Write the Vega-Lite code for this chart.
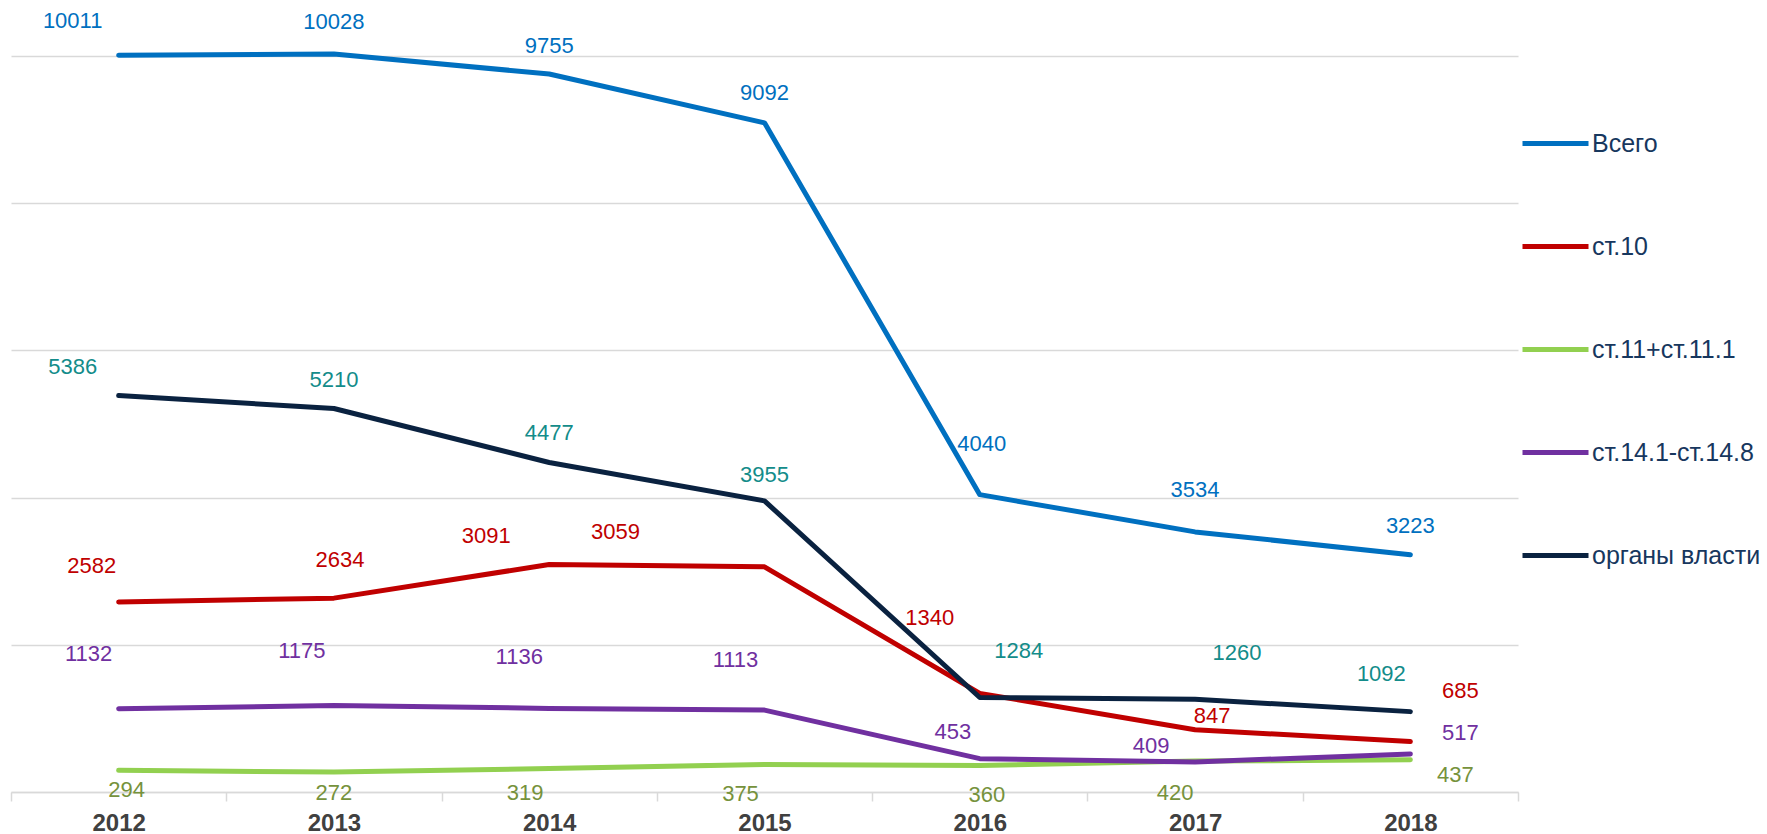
{
  "$schema": "https://vega.github.io/schema/vega-lite/v6.json",
  "width": 1507,
  "height": 736,
  "autosize": "none",
  "padding": {"left": 11, "top": 56, "right": 249, "bottom": 42},
  "background": "white",
  "config": {
    "font": "Liberation Sans",
    "view": {"stroke": null}
  },
  "data": {
    "values": [
      {"year": "2012", "series": "Всего", "value": 10011},
      {"year": "2013", "series": "Всего", "value": 10028},
      {"year": "2014", "series": "Всего", "value": 9755},
      {"year": "2015", "series": "Всего", "value": 9092},
      {"year": "2016", "series": "Всего", "value": 4040},
      {"year": "2017", "series": "Всего", "value": 3534},
      {"year": "2018", "series": "Всего", "value": 3223},
      {"year": "2012", "series": "ст.10", "value": 2582},
      {"year": "2013", "series": "ст.10", "value": 2634},
      {"year": "2014", "series": "ст.10", "value": 3091},
      {"year": "2015", "series": "ст.10", "value": 3059},
      {"year": "2016", "series": "ст.10", "value": 1340},
      {"year": "2017", "series": "ст.10", "value": 847},
      {"year": "2018", "series": "ст.10", "value": 685},
      {"year": "2012", "series": "ст.11+ст.11.1", "value": 294},
      {"year": "2013", "series": "ст.11+ст.11.1", "value": 272},
      {"year": "2014", "series": "ст.11+ст.11.1", "value": 319},
      {"year": "2015", "series": "ст.11+ст.11.1", "value": 375},
      {"year": "2016", "series": "ст.11+ст.11.1", "value": 360},
      {"year": "2017", "series": "ст.11+ст.11.1", "value": 420},
      {"year": "2018", "series": "ст.11+ст.11.1", "value": 437},
      {"year": "2012", "series": "ст.14.1-ст.14.8", "value": 1132},
      {"year": "2013", "series": "ст.14.1-ст.14.8", "value": 1175},
      {"year": "2014", "series": "ст.14.1-ст.14.8", "value": 1136},
      {"year": "2015", "series": "ст.14.1-ст.14.8", "value": 1113},
      {"year": "2016", "series": "ст.14.1-ст.14.8", "value": 453},
      {"year": "2017", "series": "ст.14.1-ст.14.8", "value": 409},
      {"year": "2018", "series": "ст.14.1-ст.14.8", "value": 517},
      {"year": "2012", "series": "органы власти", "value": 5386},
      {"year": "2013", "series": "органы власти", "value": 5210},
      {"year": "2014", "series": "органы власти", "value": 4477},
      {"year": "2015", "series": "органы власти", "value": 3955},
      {"year": "2016", "series": "органы власти", "value": 1284},
      {"year": "2017", "series": "органы власти", "value": 1260},
      {"year": "2018", "series": "органы власти", "value": 1092}
    ]
  },
  "encoding": {
    "x": {
      "field": "year", "type": "ordinal", "bandPosition": 0.5,
      "scale": {"type": "band", "paddingInner": 0, "paddingOuter": 0},
      "axis": {
        "title": null, "labelAngle": 0, "tickBand": "extent",
        "domainColor": "#D9D9D9", "domainWidth": 1.5,
        "tickColor": "#D9D9D9", "tickWidth": 1.5, "tickSize": 9,
        "labelFont": "Liberation Sans", "labelFontWeight": "bold", "labelFontSize": 24,
        "labelColor": "#404040", "labelPadding": 10, "grid": false
      }
    },
    "y": {
      "field": "value", "type": "quantitative",
      "scale": {"domain": [0, 10000], "nice": false},
      "axis": {
        "title": null, "values": [0, 2000, 4000, 6000, 8000, 10000],
        "labels": false, "ticks": false, "domain": false,
        "grid": true, "gridColor": "#D9D9D9", "gridWidth": 1.5
      }
    }
  },
  "layer": [
    {
      "mark": {"type": "line", "strokeWidth": 5, "strokeCap": "round", "strokeJoin": "round"},
      "encoding": {
        "color": {
          "field": "series", "type": "nominal",
          "scale": {
            "domain": ["Всего", "ст.10", "ст.11+ст.11.1", "ст.14.1-ст.14.8", "органы власти"],
            "range": ["#0070C0", "#C00000", "#92D050", "#7030A0", "#0A2240"]
          },
          "legend": {
            "title": null, "orient": "none", "legendX": 1509, "legendY": 52,
            "symbolType": "stroke", "symbolSize": 4356, "symbolStrokeWidth": 5,
            "labelFontSize": 25, "labelColor": "#17375E", "labelFont": "Liberation Sans",
            "labelLimit": 400, "rowPadding": 54, "labelOffset": 1
          }
        },
        "order": {"field": "series"}
      }
    },
    {
      "transform": [{"filter": "datum.series === 'Всего'"}],
      "mark": {"type": "text", "fontSize": 22, "color": "#0070C0",
        "dx": {"expr": "[-46,0,0,0,2,0,0][toNumber(datum.year)-2012]"},
        "dy": {"expr": "[-34,-32,-28,-30,-51,-42,-29][toNumber(datum.year)-2012]"}},
      "encoding": {"text": {"field": "value", "type": "quantitative", "format": "d"}}
    },
    {
      "transform": [{"filter": "datum.series === 'ст.10'"}],
      "mark": {"type": "text", "fontSize": 22, "color": "#C00000",
        "dx": {"expr": "[-27,6,-63,-149,-50,17,50][toNumber(datum.year)-2012]"},
        "dy": {"expr": "[-36,-38,-29,-35,-75,-14,-51][toNumber(datum.year)-2012]"}},
      "encoding": {"text": {"field": "value", "type": "quantitative", "format": "d"}}
    },
    {
      "transform": [{"filter": "datum.series === 'ст.11+ст.11.1'"}],
      "mark": {"type": "text", "fontSize": 22, "color": "#76923C",
        "dx": {"expr": "[8,0,-24,-24,7,-20,45][toNumber(datum.year)-2012]"},
        "dy": {"expr": "[20,21,24,30,29,32,15][toNumber(datum.year)-2012]"}},
      "encoding": {"text": {"field": "value", "type": "quantitative", "format": "d"}}
    },
    {
      "transform": [{"filter": "datum.series === 'ст.14.1-ст.14.8'"}],
      "mark": {"type": "text", "fontSize": 22, "color": "#7030A0",
        "dx": {"expr": "[-30,-32,-30,-29,-27,-44,50][toNumber(datum.year)-2012]"},
        "dy": {"expr": "[-55,-55,-51,-50,-27,-16,-21][toNumber(datum.year)-2012]"}},
      "encoding": {"text": {"field": "value", "type": "quantitative", "format": "d"}}
    },
    {
      "transform": [{"filter": "datum.series === 'органы власти'"}],
      "mark": {"type": "text", "fontSize": 22, "color": "#138C8A",
        "dx": {"expr": "[-46,0,0,0,39,42,-29][toNumber(datum.year)-2012]"},
        "dy": {"expr": "[-29,-29,-29,-26,-46,-46,-38][toNumber(datum.year)-2012]"}},
      "encoding": {"text": {"field": "value", "type": "quantitative", "format": "d"}}
    }
  ]
}
